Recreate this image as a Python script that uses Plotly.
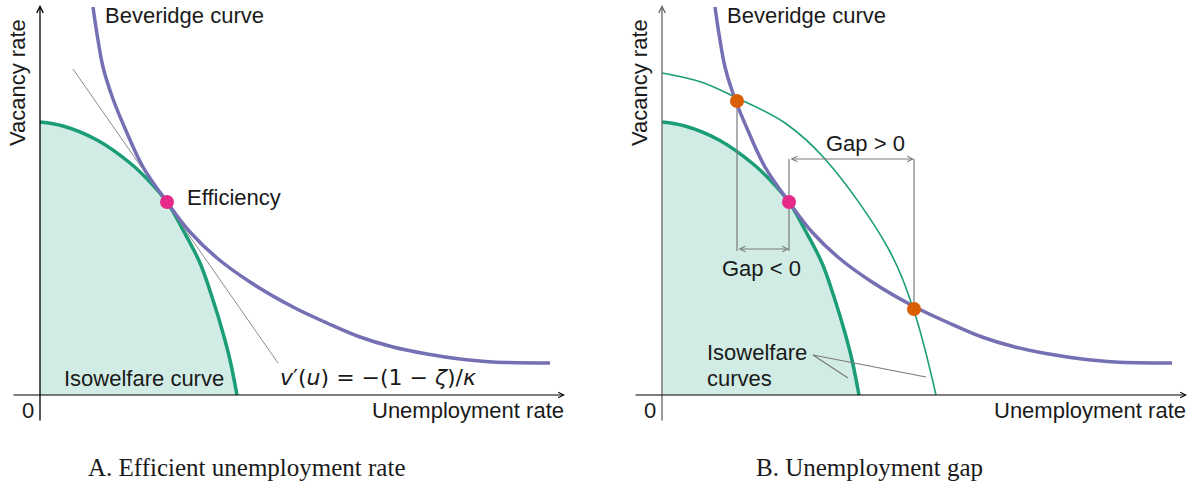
import plotly.graph_objects as go

# ---------------- data (arbitrary units: u = unemployment, v = vacancy) -------------
BEV_U = [53, 57, 63, 73, 87, 103, 127, 150, 177, 210, 253, 287, 320, 353, 387, 420, 453, 510]
BEV_V = [388, 361, 328, 296, 262, 228, 193, 163, 137, 113, 88, 72, 58, 48, 41, 36, 33, 32]

ISO_U = [0, 23, 57, 90, 110, 127, 143, 160, 173, 183, 190, 197]
ISO_V = [273, 269, 255, 232, 213, 193, 165, 132, 95, 62, 35, 0]

ISO2_U = [0, 39, 75, 123, 163, 226, 252, 274]
ISO2_V = [322, 313, 297, 272, 236, 147, 84, 0]

TANGENT_U = [33, 238]
TANGENT_V = [326, 32]

EFF_U, EFF_V = [127], [193]
GAP_PTS_U = [75, 252]
GAP_PTS_V = [294, 86]

# gap guides (panel B)
GUIDE_LEFT_U, GUIDE_LEFT_V = [75, 75], [294, 144]
GUIDE_MID_U, GUIDE_MID_V = [127, 127], [236, 144]
GUIDE_RIGHT_U, GUIDE_RIGHT_V = [252, 252], [236, 86]
GAP_NEG = dict(u0=75, u1=127, v=146)
GAP_POS = dict(u0=127, u1=252, v=236)
LEADER_U = [186, 151, 264]
LEADER_V = [17, 40, 18]

CAPTIONS = ["A. Efficient unemployment rate", "B. Unemployment gap"]

PURPLE = "#7570b3"
GREEN = "#1b9e77"
PINK = "#e7298a"
ORANGE = "#d95f02"
GUIDE = "#7a7a7a"
TXT = "#1a1a1a"
SANS = "Liberation Sans, Arial, sans-serif"

fig = go.Figure()


def add_curves(xa, ya, panel):
    fig.add_trace(go.Scatter(x=ISO_U, y=ISO_V, mode="lines", line=dict(color=GREEN, width=3.5, shape="spline"),
                             fill="tozeroy", fillcolor="rgba(27,158,119,0.2)", xaxis=xa, yaxis=ya, hoverinfo="skip"))
    if panel == "A":
        fig.add_trace(go.Scatter(x=TANGENT_U, y=TANGENT_V, mode="lines", line=dict(color="#8c8c8c", width=1),
                                 xaxis=xa, yaxis=ya, hoverinfo="skip"))
    else:
        fig.add_trace(go.Scatter(x=ISO2_U, y=ISO2_V, mode="lines", line=dict(color=GREEN, width=1.6, shape="spline"),
                                 xaxis=xa, yaxis=ya, hoverinfo="skip"))
        for gu, gv in [(GUIDE_LEFT_U, GUIDE_LEFT_V), (GUIDE_MID_U, GUIDE_MID_V), (GUIDE_RIGHT_U, GUIDE_RIGHT_V)]:
            fig.add_trace(go.Scatter(x=gu, y=gv, mode="lines", line=dict(color=GUIDE, width=1.2),
                                     xaxis=xa, yaxis=ya, hoverinfo="skip"))
        fig.add_trace(go.Scatter(x=LEADER_U, y=LEADER_V, mode="lines", line=dict(color=GUIDE, width=1.2),
                                 xaxis=xa, yaxis=ya, hoverinfo="skip"))
    fig.add_trace(go.Scatter(x=BEV_U, y=BEV_V, mode="lines", line=dict(color=PURPLE, width=3.5, shape="spline"),
                             xaxis=xa, yaxis=ya, hoverinfo="skip"))
    if panel == "B":
        fig.add_trace(go.Scatter(x=GAP_PTS_U, y=GAP_PTS_V, mode="markers", marker=dict(color=ORANGE, size=14),
                                 xaxis=xa, yaxis=ya, hoverinfo="skip"))
    fig.add_trace(go.Scatter(x=EFF_U, y=EFF_V, mode="markers", marker=dict(color=PINK, size=14),
                             xaxis=xa, yaxis=ya, hoverinfo="skip"))


add_curves("x", "y", "A")
add_curves("x2", "y2", "B")

ann = []


def arrow(xr, yr, x, y, ax, ay, color="black", side="end", width=1.1):
    ann.append(dict(xref=xr, yref=yr, axref=xr, ayref=yr, x=x, y=y, ax=ax, ay=ay, text="",
                    showarrow=True, arrowhead=5, startarrowhead=5, arrowside=side, arrowsize=1,
                    startarrowsize=1, arrowwidth=width, arrowcolor=color, standoff=0, startstandoff=0))


def label(xr, yr, x, y, text, xanchor="left", size=22, textangle=0, family=SANS):
    ann.append(dict(xref=xr, yref=yr, x=x, y=y, text=text, showarrow=False, xanchor=xanchor,
                    yanchor="middle", textangle=textangle, font=dict(family=family, size=size, color=TXT)))


for xr, yr, ycol in [("x", "y", "black"), ("x2", "y2", "#666666")]:
    arrow(xr, yr, 0, 390, 0, -27, color=ycol, width=1.3)
    arrow(xr, yr, 525, 0, -28, 0)
    label(xr, yr, 63, 380, "Beveridge curve")
    label(xr, yr, 526, -15, "Unemployment rate", xanchor="right")
    label(xr, yr, -12, -15, "0", xanchor="center")
    label(xr, yr, -23, 312, "Vacancy rate", xanchor="center", textangle=-90)

label("x", "y", 145, 198, "Efficiency")
label("x", "y", 22, 17, "Isowelfare curve")
label("x", "y", 238, 18, "<i>v</i>′(<i>u</i>) = −(1 − <i>ζ</i>)/<i>κ</i>",
      size=22, family="DejaVu Sans, sans-serif")

arrow("x2", "y2", GAP_NEG["u1"], GAP_NEG["v"], GAP_NEG["u0"], GAP_NEG["v"], color=GUIDE, side="end+start")
arrow("x2", "y2", GAP_POS["u1"], GAP_POS["v"], GAP_POS["u0"], GAP_POS["v"], color=GUIDE, side="end+start")
label("x2", "y2", 99, 127, "Gap &lt; 0", xanchor="center")
label("x2", "y2", 203, 252, "Gap &gt; 0", xanchor="center")
label("x2", "y2", 43, 43, "Isowelfare")
label("x2", "y2", 43, 17, "curves")

for cx, cap in zip([0.2067, 0.728], CAPTIONS):
    ann.append(dict(xref="paper", yref="paper", x=cx, y=0.041, text=cap, showarrow=False,
                    xanchor="center", yanchor="middle",
                    font=dict(family="Liberation Serif, Times New Roman, serif", size=25, color=TXT)))

ax_common = dict(visible=False, showgrid=False, zeroline=False, fixedrange=True)
fig.update_layout(
    width=1195, height=488,
    margin=dict(l=0, r=0, t=0, b=0),
    paper_bgcolor="white", plot_bgcolor="white",
    showlegend=False,
    xaxis=dict(domain=[0, 0.5], range=[-40, 557.5], **ax_common),
    yaxis=dict(domain=[0, 1], range=[-93, 395], **ax_common),
    xaxis2=dict(domain=[0.5, 1], range=[-64.5, 533], **ax_common),
    yaxis2=dict(domain=[0, 1], range=[-93, 395], anchor="x2", **ax_common),
    annotations=ann,
)

fig.write_html("out.html", config={"displayModeBar": False},
               post_script="document.body.style.margin='0px';document.body.style.overflow='hidden';")
